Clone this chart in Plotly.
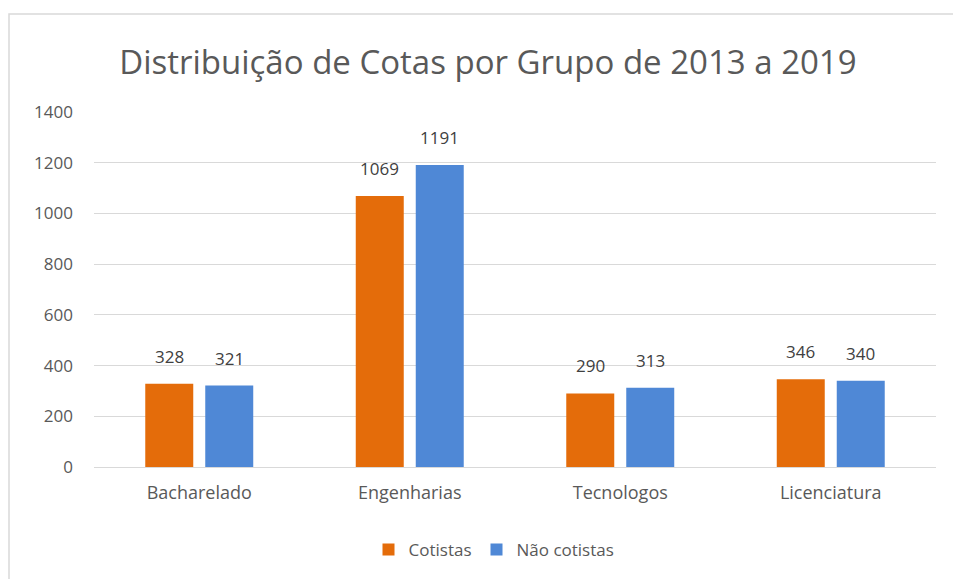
import plotly.graph_objects as go

categories = ["Bacharelado", "Engenharias", "Tecnologos", "Licenciatura"]
cotistas = [328, 1069, 290, 346]
nao_cotistas = [321, 1191, 313, 340]
series_names = ["Cotistas", "Não cotistas"]
tick_vals = [0, 200, 400, 600, 800, 1000, 1200, 1400]
title_text = "Distribuição de Cotas por Grupo de 2013 a 2019"

ORANGE = "#E46C0A"
BLUE = "#4F88D6"
FONT = "'Open Sans', sans-serif"
GRAY = "#595959"

fig = go.Figure()
fig.add_trace(go.Bar(x=categories, y=cotistas, name=series_names[0],
                     marker=dict(color=ORANGE, line=dict(width=0))))
fig.add_trace(go.Bar(x=categories, y=nao_cotistas, name=series_names[1],
                     marker=dict(color=BLUE, line=dict(width=0))))

W, H = 953, 579
L, R, T, B = 94, 17, 112, 112
pw = W - L - R
ph = H - T - B

annotations = []
for i, cat in enumerate(categories):
    for vals, shift in ((cotistas, -30), (nao_cotistas, 30)):
        annotations.append(dict(x=cat, y=vals[i], xref="x", yref="y", text=str(vals[i]),
                                showarrow=False, xshift=shift, yanchor="bottom", yshift=14,
                                font=dict(size=17, color="#404040", family=FONT)))

fig.update_layout(
    width=W, height=H,
    margin=dict(l=L, r=R, t=T, b=B, autoexpand=False),
    paper_bgcolor="white", plot_bgcolor="white",
    barmode="group", bargap=0.43, bargroupgap=0.2,
    title=dict(text=title_text, x=0.512, xanchor="center", y=(579 - 62) / 579, yanchor="middle",
               font=dict(family=FONT, size=33, color=GRAY)),
    font=dict(family=FONT, color=GRAY),
    showlegend=True,
    legend=dict(orientation="h", x=(494 - L) / pw, xanchor="center", y=(467 - 550) / ph, yanchor="middle",
                font=dict(size=17, color=GRAY, family=FONT),
                itemwidth=30, traceorder="normal"),
    xaxis=dict(showgrid=False, showline=False, ticks="",
               tickfont=dict(size=18, color=GRAY, family=FONT)),
    yaxis=dict(range=[0, 1400], tickvals=tick_vals, showgrid=True, gridcolor="#D9D9D9", gridwidth=1,
               zeroline=True, zerolinecolor="#D9D9D9", zerolinewidth=1, showline=False,
               tickfont=dict(size=17, color=GRAY, family=FONT), ticks="", ticklen=0),
    annotations=annotations,
    shapes=[dict(type="rect", xref="paper", yref="paper",
                 x0=(9 - L) / pw, x1=(W + 20 - L) / pw,
                 y0=(467 - (H + 20)) / ph, y1=(467 - 14) / ph,
                 line=dict(color="#D9D9D9", width=1.5), fillcolor="rgba(0,0,0,0)", layer="below")],
)
fig.update_xaxes(ticklabelstandoff=13)
fig.update_yaxes(ticklabelstandoff=20)

fig.write_html("out.html")
